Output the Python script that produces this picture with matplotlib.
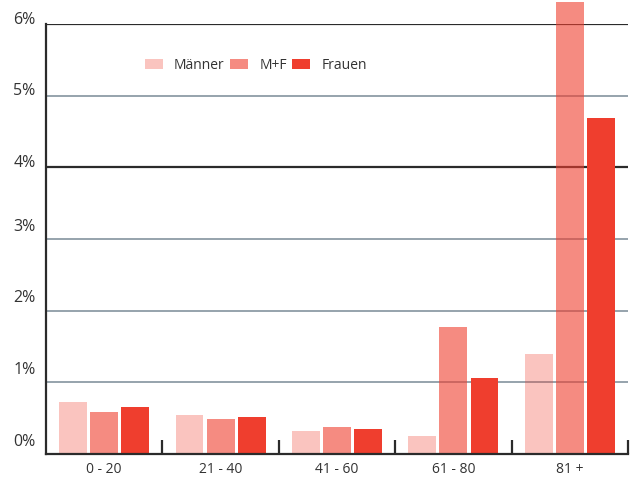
import matplotlib
matplotlib.use('Agg')
import matplotlib.pyplot as plt
import numpy as np

groups = ['0 - 20', '21 - 40', '41 - 60', '61 - 80', '81 +']
maenner = [0.73, 0.54, 0.32, 0.25, 1.40]
mf = [0.59, 0.49, 0.38, 1.77, 6.31]
frauen = [0.66, 0.52, 0.35, 1.06, 4.69]
series_names = ['Männer', 'M+F', 'Frauen']
yticks = [0, 1, 2, 3, 4, 5, 6]

plt.rcParams['font.family'] = ['Open Sans', 'DejaVu Sans']
red = '#ef3e2e'

fig = plt.figure(figsize=(6.33, 4.8), dpi=100)
ax = fig.add_axes([46/633, 26/480, 582/633, 430/480])

x = np.arange(len(groups))
w = 0.24
off = 0.267

# gridlines
for v in yticks[1:]:
    col = '#2b2b2b' if v in (4, 6) else '#8d9ca6'
    lw = 1.6 if v in (4, 6) else 1.3
    ax.axhline(v, color=col, lw=lw, zorder=1)

ax.bar(x - off, maenner, w, color=red, alpha=0.3, label=series_names[0], zorder=2)
b = ax.bar(x, mf, w, color=red, alpha=0.6, label=series_names[1], zorder=2)
for p in b:
    p.set_clip_on(False)
ax.bar(x + off, frauen, w, color=red, label=series_names[2], zorder=2)

ax.set_xlim(-0.5, len(groups) - 0.5)
ax.set_ylim(0, 6)

for s in ['top', 'right']:
    ax.spines[s].set_visible(False)
ax.spines['left'].set_color('#2b2b2b')
ax.spines['bottom'].set_color('#2b2b2b')
ax.spines['left'].set_linewidth(1.6)
ax.spines['bottom'].set_linewidth(1.6)
ax.spines['left'].set_zorder(3)
ax.spines['bottom'].set_zorder(3)

ax.set_yticks([])
for v in yticks:
    dy = 0.06 if v >= 4 else 0.17
    ax.text(-0.59, v + dy, '%d%%' % v, ha='right', va='center',
            fontsize=11.5, color='#333333')

ax.set_xticks(x)
ax.set_xticklabels(groups, fontsize=10, color='#333333')
ax.tick_params(axis='x', which='major', length=0, pad=6)
ax.set_xticks(np.arange(len(groups)) + 0.5, minor=True)
ax.tick_params(axis='x', which='minor', direction='in', length=10,
               width=1.6, color='#2b2b2b')

ax.legend(loc='upper left', bbox_to_anchor=(0.148, 0.95), ncol=3, frameon=False,
          fontsize=10, handlelength=1.3, handleheight=0.8, handletextpad=0.8,
          columnspacing=0.4, labelcolor='#333333')

fig.savefig('out.png', dpi=100)
